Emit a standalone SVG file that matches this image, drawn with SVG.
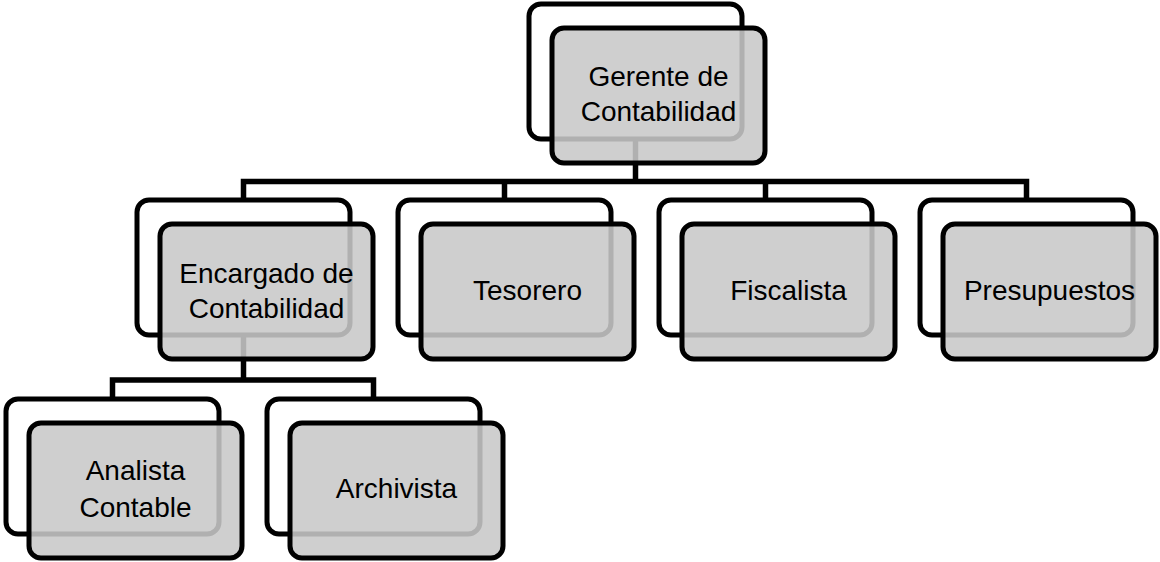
<svg xmlns="http://www.w3.org/2000/svg" width="1160" height="562" viewBox="0 0 1160 562">
<style>
.back{fill:#ffffff;stroke:#000000;stroke-width:5}
.front{fill:#c8c8c8;fill-opacity:0.88;stroke:#000000;stroke-width:5}
.conn{fill:none;stroke:#000000;stroke-width:5.5;stroke-linejoin:miter}
.lbl{font-family:"Liberation Sans",Arial,sans-serif;font-size:28px;fill:#000000;text-anchor:middle}
</style>
<rect width="1160" height="562" fill="#ffffff"/>
<g id="connectors">
<path class="conn" d="M635.5 137 V181.5"/>
<path class="conn" d="M243.5 200 V181.5 H1026.5 V200"/>
<path class="conn" d="M504.5 181.5 V200"/>
<path class="conn" d="M765.5 181.5 V200"/>
<path class="conn" d="M243.5 335 V380"/>
<path class="conn" d="M112.5 399 V380 H373.5 V399"/>
</g>
<g id="gerente">
<rect class="back" x="529" y="4" width="213" height="135" rx="12"/>
<rect class="front" x="552" y="28" width="213" height="135" rx="12"/>
<text class="lbl" x="658.5" y="86">Gerente de</text>
<text class="lbl" x="658.5" y="121">Contabilidad</text>
</g>
<g id="encargado">
<rect class="back" x="137" y="200" width="213" height="135" rx="12"/>
<rect class="front" x="160" y="224" width="213" height="135" rx="12"/>
<text class="lbl" x="266.5" y="283">Encargado de</text>
<text class="lbl" x="266.5" y="318">Contabilidad</text>
</g>
<g id="tesorero">
<rect class="back" x="398" y="200" width="213" height="135" rx="12"/>
<rect class="front" x="421" y="224" width="213" height="135" rx="12"/>
<text class="lbl" x="527.5" y="300">Tesorero</text>
</g>
<g id="fiscalista">
<rect class="back" x="659" y="200" width="213" height="135" rx="12"/>
<rect class="front" x="682" y="224" width="213" height="135" rx="12"/>
<text class="lbl" x="788.5" y="300">Fiscalista</text>
</g>
<g id="presupuestos">
<rect class="back" x="920" y="200" width="213" height="135" rx="12"/>
<rect class="front" x="943" y="224" width="213" height="135" rx="12"/>
<text class="lbl" x="1049.5" y="300">Presupuestos</text>
</g>
<g id="analista">
<rect class="back" x="6" y="399" width="213" height="135" rx="12"/>
<rect class="front" x="29" y="423" width="213" height="135" rx="12"/>
<text class="lbl" x="135.5" y="480">Analista</text>
<text class="lbl" x="135.5" y="517">Contable</text>
</g>
<g id="archivista">
<rect class="back" x="267" y="399" width="213" height="135" rx="12"/>
<rect class="front" x="290" y="423" width="213" height="135" rx="12"/>
<text class="lbl" x="396.5" y="498">Archivista</text>
</g>
</svg>
